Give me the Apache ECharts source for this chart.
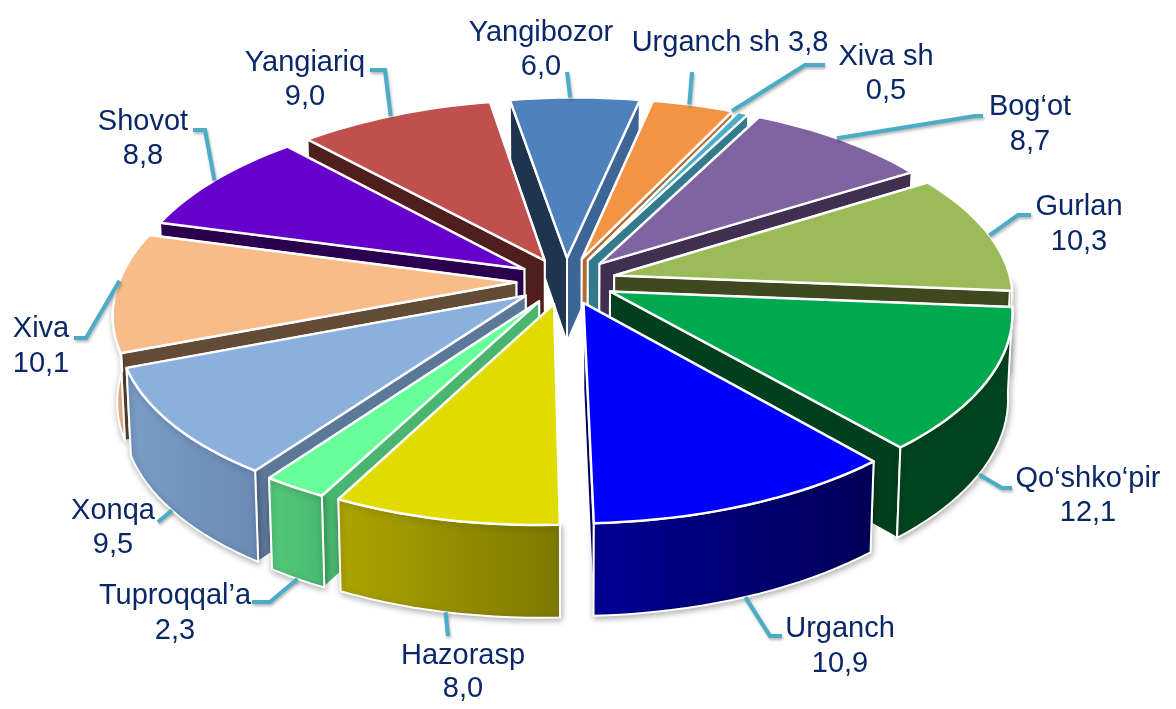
<!DOCTYPE html>
<html>
<head>
<meta charset="utf-8">
<style>html,body{margin:0;padding:0;background:#fff}#c{width:1176px;height:709px}</style>
<script src="https://cdn.jsdelivr.net/npm/echarts@6/dist/echarts.min.js"></script>
</head>
<body>
<div id="c"></div>
<script>
// --- data ---
const names = ['Yangibozor','Urganch sh','Xiva sh','Bog‘ot','Gurlan','Qo‘shko‘pir','Urganch','Hazorasp','Tuproqqal’a','Xonqa','Xiva','Shovot','Yangiariq'];
const values = [6.0,3.8,0.5,8.7,10.3,12.1,10.9,8.0,2.3,9.5,10.1,8.8,9.0];
// --- styles ---
const topColors = ['#4f81bd','#f39444','#4bacc6','#8064a2','#9bbb59','#00a84f','#0000ff','#e0dc00','#66ff99','#8bb0de','#f8bc8a','#6600cc','#c0504d'];
const startWall = ['#1f344e','#b26a30','#337a8c','#402f51','#404820','#00401d','#000060','#a8a000','#4ab56e','#5c7899','#634b36','#2a004f','#4f1e1d'];
const endWall   = ['#3d6696','#b26a30','#337a8c','#402f51','#404820','#00401d','#000060','#a8a000','#4ab56e','#5c7899','#634b36','#2a004f','#4f1e1d'];
const outerL = ['#3d6696','#b26a30','#337a8c','#402f51','#404820','#00451f','#000096','#aba500','#55c97c','#7a9cc6','#f5bf90','#2a004f','#4f1e1d'];
const outerR = ['#3d6696','#b26a30','#337a8c','#402f51','#404820','#00451f','#000058','#7f7800','#49b76f','#6a8ab5','#f5bf90','#2a004f','#4f1e1d'];
// label centre x, first-line y, second-line y; leader elbow and end
const labelPos = [[541,33,67],[730,43,null],[886,57,91],[1030,107,142],[1079,207,242],[1088,479,513],[840,629,664],[463,656,689],[175,596,631],[113,511,545],[41,329,364],[143,122,156],[305,63,97]];
const leaderVia = [[[567,72]],[[692,72]],[[805,65],[825,65]],[[975,116],[983,116]],[[1018,215],[1031,215]],[[1002,488],[1012,488]],[[770,636],[782,636]],[[448,636]],[[270,602],[252,602]],[[158,522]],[[86,338],[74,338]],[[205,130],[193,130]],[[385,70],[370,70]]];
const anchorShift = [-0.8,-0.7,-2,-1,1,1.5,0,0,0,1,3.5,0,-0.7];
// --- projection geometry ---
const cx=566, cy=281, a=397, b=186.5, k=0.127, kx=0.13, shearFront=13, shearBack=8, h=85, explode=0.125, startDeg=-10.8;
const total=values.reduce((p,q)=>p+q,0);
const rad=d=>d*Math.PI/180;
function proj(u,v,low){
  let X=cx+a*u/(1-kx*v)-(v>0?shearFront:shearBack)*v, Y=cy+b*v/(1-k*v);
  if(low){ Y+=h*(1+0.08*v); X=cx+(X-cx)*0.99; }
  return [X,Y];
}
const slices=[]; let acc=startDeg;
values.forEach(val=>{ const sweep=val/total*360; slices.push({s:acc,e:acc+sweep,m:acc+sweep/2}); acc+=sweep; });
const order=slices.map((_,i)=>i).sort((p,q)=>(-Math.cos(rad(slices[p].m)))-(-Math.cos(rad(slices[q].m))));
const rank=[]; order.forEach((idx,r)=>rank[idx]=r);
function sliceGeom(i){
  const sl=slices[i], m=rad(sl.m);
  const ox=explode*Math.sin(m), oy=-explode*Math.cos(m);
  const rim=(deg,low)=>proj(ox+Math.sin(rad(deg)),oy-Math.cos(rad(deg)),low);
  const tip=low=>proj(ox,oy,low);
  const arc=(d0,d1,low)=>{ const pts=[]; const n=Math.max(4,Math.round((d1-d0)/2)); for(let j=0;j<=n;j++){ pts.push(rim(d0+(d1-d0)*j/n,low)); } return pts; };
  return {rim,tip,arc};
}
function renderItem(params,api){
  const i=params.dataIndex, g=sliceGeom(i), z=10+rank[i]*5, W='#ffffff';
  const poly=(points,fill,zz,lw)=>({type:'polygon',z2:zz,shape:{points},style:{fill,stroke:W,lineWidth:lw===undefined?2:lw,lineJoin:'round'}});
  const sl=slices[i];
  const children=[];
  const shadow={shadowBlur:6,shadowColor:'rgba(0,0,0,0.3)',shadowOffsetX:1,shadowOffsetY:2};
  const w0=poly([g.tip(false),g.rim(sl.s,false),g.rim(sl.s,true),g.tip(true)],startWall[i],z);
  const w1=poly([g.tip(false),g.rim(sl.e,false),g.rim(sl.e,true),g.tip(true)],endWall[i],z);
  // the wall whose rim lies further back is drawn first
  if(Math.cos(rad(sl.s))>Math.cos(rad(sl.e))) children.push(w0,w1); else children.push(w1,w0);
  // outer wall: only the part of the rim that faces the viewer
  const d0=Math.max(sl.s,91), d1=Math.min(sl.e,269);
  if(d1>d0){
    const outer=poly(g.arc(d0,d1,false).concat(g.arc(d0,d1,true).reverse()),
      {type:'linear',x:0,y:0,x2:1,y2:0,colorStops:[{offset:0,color:outerL[i]},{offset:1,color:outerR[i]}]},z+1);
    Object.assign(outer.style,shadow);
    children.push(outer);
  }
  children.push(poly([g.tip(false)].concat(g.arc(sl.s,sl.e,false)),topColors[i],z+2,2.5));
  // leader line, anchored on the slice rim near its middle angle
  const ad=sl.m+anchorShift[i];
  const anchor=g.rim(ad,Math.cos(rad(ad))<0);
  children.push({type:'polyline',z2:200,shape:{points:[anchor].concat(leaderVia[i])},
    style:{fill:null,stroke:'#4bacc6',lineWidth:4,lineJoin:'miter',shadowBlur:3,shadowColor:'rgba(0,0,0,0.3)',shadowOffsetX:1,shadowOffsetY:2}});
  const txt=api.value(0).toFixed(1).replace('.',',');
  const lp=labelPos[i];
  const ts={fill:'#0a2868',font:'29px "Liberation Sans", Arial, sans-serif',align:'center',verticalAlign:'middle'};
  if(lp[2]===null){
    children.push({type:'text',z2:210,style:Object.assign({text:names[i]+' '+txt,x:lp[0],y:lp[1]},ts)});
  }else{
    children.push({type:'text',z2:210,style:Object.assign({text:names[i],x:lp[0],y:lp[1]},ts)});
    children.push({type:'text',z2:210,style:Object.assign({text:txt,x:lp[0],y:lp[2]},ts)});
  }
  return {type:'group',children};
}
const chart=echarts.init(document.getElementById('c'),null,{renderer:'canvas'});
chart.setOption({
  animation:false,
  backgroundColor:'#ffffff',
  series:[{type:'custom',coordinateSystem:'none',renderItem,
    data:values.map((v,i)=>({name:names[i],value:[v]}))}]
});
</script>
</body>
</html>
